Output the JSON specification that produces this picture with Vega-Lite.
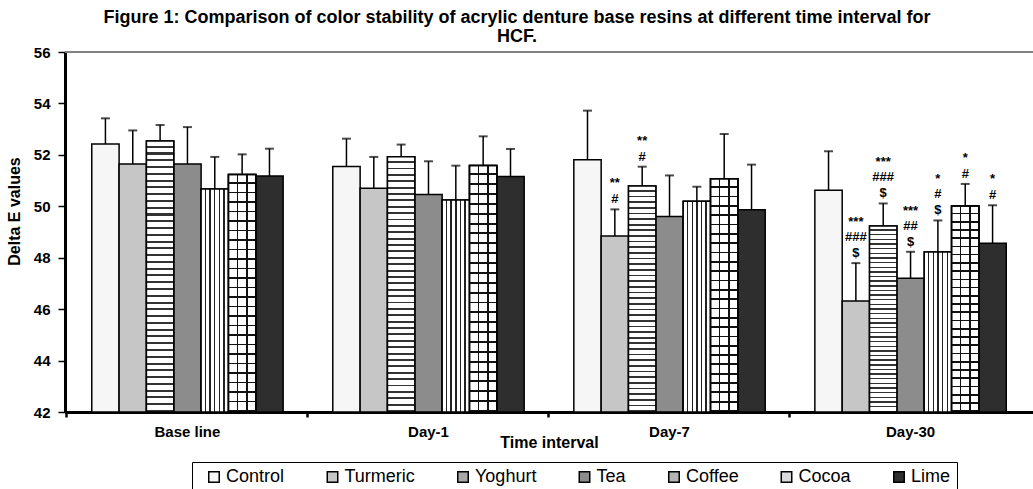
{
  "$schema": "https://vega.github.io/schema/vega-lite/v6.json",
  "width": 968,
  "height": 360,
  "autosize": {"type": "none"},
  "padding": {"left": 65, "top": 52, "right": 0, "bottom": 77},
  "background": "white",
  "config": {"font": "Liberation Sans", "view": {"stroke": null}},
  "title": {
    "text": ["Figure 1: Comparison of color stability of acrylic denture base resins at different time interval for", "HCF."],
    "fontSize": 18,
    "fontWeight": "bold",
    "color": "black",
    "anchor": "middle",
    "dx": -32,
    "offset": -1,
    "lineHeight": 19
  },
  "data": {
    "values": [
      {"time": "Base line", "group": "Control", "m": 52.42, "hi": 53.42},
      {"time": "Base line", "group": "Turmeric", "m": 51.64, "hi": 52.95},
      {"time": "Base line", "group": "Yoghurt", "m": 52.54, "hi": 53.16},
      {"time": "Base line", "group": "Tea", "m": 51.64, "hi": 53.08},
      {"time": "Base line", "group": "Coffee", "m": 50.67, "hi": 51.92},
      {"time": "Base line", "group": "Cocoa", "m": 51.24, "hi": 52.02},
      {"time": "Base line", "group": "Lime", "m": 51.18, "hi": 52.24},
      {"time": "Day-1", "group": "Control", "m": 51.55, "hi": 52.63},
      {"time": "Day-1", "group": "Turmeric", "m": 50.70, "hi": 51.92},
      {"time": "Day-1", "group": "Yoghurt", "m": 51.93, "hi": 52.40},
      {"time": "Day-1", "group": "Tea", "m": 50.46, "hi": 51.75},
      {"time": "Day-1", "group": "Coffee", "m": 50.24, "hi": 51.58},
      {"time": "Day-1", "group": "Cocoa", "m": 51.59, "hi": 52.72},
      {"time": "Day-1", "group": "Lime", "m": 51.16, "hi": 52.23},
      {"time": "Day-7", "group": "Control", "m": 51.81, "hi": 53.72},
      {"time": "Day-7", "group": "Turmeric", "m": 48.84, "hi": 49.88, "a1": "#", "a2": "**"},
      {"time": "Day-7", "group": "Yoghurt", "m": 50.79, "hi": 51.54, "a1": "#", "a2": "**"},
      {"time": "Day-7", "group": "Tea", "m": 49.60, "hi": 51.20},
      {"time": "Day-7", "group": "Coffee", "m": 50.20, "hi": 50.76},
      {"time": "Day-7", "group": "Cocoa", "m": 51.07, "hi": 52.81},
      {"time": "Day-7", "group": "Lime", "m": 49.87, "hi": 51.62},
      {"time": "Day-30", "group": "Control", "m": 50.62, "hi": 52.14},
      {"time": "Day-30", "group": "Turmeric", "m": 46.32, "hi": 47.79, "a1": "$", "a2": "###", "a3": "***"},
      {"time": "Day-30", "group": "Yoghurt", "m": 49.23, "hi": 50.11, "a1": "$", "a2": "###", "a3": "***"},
      {"time": "Day-30", "group": "Tea", "m": 47.20, "hi": 48.23, "a1": "$", "a2": "##", "a3": "***"},
      {"time": "Day-30", "group": "Coffee", "m": 48.22, "hi": 49.45, "a1": "$", "a2": "#", "a3": "*"},
      {"time": "Day-30", "group": "Cocoa", "m": 50.01, "hi": 50.87, "a1": "#", "a2": "*"},
      {"time": "Day-30", "group": "Lime", "m": 48.56, "hi": 50.04, "a1": "#", "a2": "*"}
    ]
  },
  "encoding": {
    "x": {
      "field": "time",
      "type": "nominal",
      "scale": {"domain": ["Base line", "Day-1", "Day-7", "Day-30"], "paddingInner": 0.206, "paddingOuter": 0.111},
      "axis": {
        "title": "Time interval",
        "labelAngle": 0,
        "bandPosition": -0.13,
        "domainColor": "black",
        "domainWidth": 3,
        "tickColor": "black",
        "tickWidth": 2.5,
        "tickSize": 5,
        "labelFontSize": 15,
        "labelFontWeight": "bold",
        "labelColor": "black",
        "labelPadding": 7,
        "titleFontSize": 16,
        "titleFontWeight": "bold",
        "titleColor": "black",
        "titleY": 30,
        "titleBaseline": "middle"
      }
    },
    "xOffset": {
      "field": "group",
      "type": "nominal",
      "scale": {"domain": ["Control", "Turmeric", "Yoghurt", "Tea", "Coffee", "Cocoa", "Lime"]}
    },
    "y": {
      "field": "m",
      "type": "quantitative",
      "scale": {"domain": [42, 56], "nice": false, "zero": false},
      "axis": {
        "title": "Delta E values",
        "values": [42, 44, 46, 48, 50, 52, 54, 56],
        "grid": false,
        "domainColor": "black",
        "domainWidth": 3,
        "tickColor": "black",
        "tickWidth": 1.5,
        "tickSize": 7,
        "labelFontSize": 15,
        "labelFontWeight": "bold",
        "labelColor": "black",
        "labelPadding": 8,
        "titleFontSize": 16,
        "titleFontWeight": "bold",
        "titleColor": "black",
        "titleX": -51,
        "titleY": 159,
        "titleBaseline": "middle"
      }
    }
  },
  "layer": [
    {
      "mark": {"type": "rule", "color": "#808080", "strokeWidth": 1},
      "encoding": {"y": {"datum": 56}, "x": null, "xOffset": null}
    },
    {
      "mark": {"type": "bar", "stroke": "black", "strokeWidth": 1.5},
      "encoding": {
        "y2": {"datum": 42},
        "color": {
          "field": "group",
          "type": "nominal",
          "scale": {
            "domain": ["Control", "Turmeric", "Yoghurt", "Tea", "Coffee", "Cocoa", "Lime"],
            "range": ["#f6f6f6", "#c6c6c6", "#a8a8a8", "#8c8c8c", "#b4b4b4", "#dadada", "#2e2e2e"]
          },
          "legend": {
            "orient": "none",
            "legendX": 127,
            "legendY": 410,
            "direction": "horizontal",
            "columns": 7,
            "title": null,
            "strokeColor": "black",
            "fillColor": "white",
            "padding": 6,
            "symbolOffset": 7,
            "symbolType": "square",
            "symbolSize": 110,
            "symbolStrokeColor": "black",
            "labelFontSize": 18,
            "labelColor": "black",
            "labelOffset": 3,
            "columnPadding": 31.5
          }
        }
      }
    },
    {
      "transform": [{"filter": "datum.group === 'Yoghurt'"}],
      "mark": {
        "type": "bar", "stroke": "black", "strokeWidth": 1.5,
        "color": {
          "gradient": "linear", "x1": 0, "y1": 0, "x2": 0, "y2": 1,
          "stops": [
            {"offset": 0, "color": "#fff"}, {"offset": 0.0175, "color": "#fff"}, {"offset": 0.0175, "color": "#333"}, {"offset": 0.025, "color": "#333"},
            {"offset": 0.025, "color": "#fff"}, {"offset": 0.0425, "color": "#fff"}, {"offset": 0.0425, "color": "#333"}, {"offset": 0.05, "color": "#333"},
            {"offset": 0.05, "color": "#fff"}, {"offset": 0.0675, "color": "#fff"}, {"offset": 0.0675, "color": "#333"}, {"offset": 0.075, "color": "#333"},
            {"offset": 0.075, "color": "#fff"}, {"offset": 0.0925, "color": "#fff"}, {"offset": 0.0925, "color": "#333"}, {"offset": 0.1, "color": "#333"},
            {"offset": 0.1, "color": "#fff"}, {"offset": 0.1175, "color": "#fff"}, {"offset": 0.1175, "color": "#333"}, {"offset": 0.125, "color": "#333"},
            {"offset": 0.125, "color": "#fff"}, {"offset": 0.1425, "color": "#fff"}, {"offset": 0.1425, "color": "#333"}, {"offset": 0.15, "color": "#333"},
            {"offset": 0.15, "color": "#fff"}, {"offset": 0.1675, "color": "#fff"}, {"offset": 0.1675, "color": "#333"}, {"offset": 0.175, "color": "#333"},
            {"offset": 0.175, "color": "#fff"}, {"offset": 0.1925, "color": "#fff"}, {"offset": 0.1925, "color": "#333"}, {"offset": 0.2, "color": "#333"},
            {"offset": 0.2, "color": "#fff"}, {"offset": 0.2175, "color": "#fff"}, {"offset": 0.2175, "color": "#333"}, {"offset": 0.225, "color": "#333"},
            {"offset": 0.225, "color": "#fff"}, {"offset": 0.2425, "color": "#fff"}, {"offset": 0.2425, "color": "#333"}, {"offset": 0.25, "color": "#333"},
            {"offset": 0.25, "color": "#fff"}, {"offset": 0.2675, "color": "#fff"}, {"offset": 0.2675, "color": "#333"}, {"offset": 0.275, "color": "#333"},
            {"offset": 0.275, "color": "#fff"}, {"offset": 0.2925, "color": "#fff"}, {"offset": 0.2925, "color": "#333"}, {"offset": 0.3, "color": "#333"},
            {"offset": 0.3, "color": "#fff"}, {"offset": 0.3175, "color": "#fff"}, {"offset": 0.3175, "color": "#333"}, {"offset": 0.325, "color": "#333"},
            {"offset": 0.325, "color": "#fff"}, {"offset": 0.3425, "color": "#fff"}, {"offset": 0.3425, "color": "#333"}, {"offset": 0.35, "color": "#333"},
            {"offset": 0.35, "color": "#fff"}, {"offset": 0.3675, "color": "#fff"}, {"offset": 0.3675, "color": "#333"}, {"offset": 0.375, "color": "#333"},
            {"offset": 0.375, "color": "#fff"}, {"offset": 0.3925, "color": "#fff"}, {"offset": 0.3925, "color": "#333"}, {"offset": 0.4, "color": "#333"},
            {"offset": 0.4, "color": "#fff"}, {"offset": 0.4175, "color": "#fff"}, {"offset": 0.4175, "color": "#333"}, {"offset": 0.425, "color": "#333"},
            {"offset": 0.425, "color": "#fff"}, {"offset": 0.4425, "color": "#fff"}, {"offset": 0.4425, "color": "#333"}, {"offset": 0.45, "color": "#333"},
            {"offset": 0.45, "color": "#fff"}, {"offset": 0.4675, "color": "#fff"}, {"offset": 0.4675, "color": "#333"}, {"offset": 0.475, "color": "#333"},
            {"offset": 0.475, "color": "#fff"}, {"offset": 0.4925, "color": "#fff"}, {"offset": 0.4925, "color": "#333"}, {"offset": 0.5, "color": "#333"},
            {"offset": 0.5, "color": "#fff"}, {"offset": 0.5175, "color": "#fff"}, {"offset": 0.5175, "color": "#333"}, {"offset": 0.525, "color": "#333"},
            {"offset": 0.525, "color": "#fff"}, {"offset": 0.5425, "color": "#fff"}, {"offset": 0.5425, "color": "#333"}, {"offset": 0.55, "color": "#333"},
            {"offset": 0.55, "color": "#fff"}, {"offset": 0.5675, "color": "#fff"}, {"offset": 0.5675, "color": "#333"}, {"offset": 0.575, "color": "#333"},
            {"offset": 0.575, "color": "#fff"}, {"offset": 0.5925, "color": "#fff"}, {"offset": 0.5925, "color": "#333"}, {"offset": 0.6, "color": "#333"},
            {"offset": 0.6, "color": "#fff"}, {"offset": 0.6175, "color": "#fff"}, {"offset": 0.6175, "color": "#333"}, {"offset": 0.625, "color": "#333"},
            {"offset": 0.625, "color": "#fff"}, {"offset": 0.6425, "color": "#fff"}, {"offset": 0.6425, "color": "#333"}, {"offset": 0.65, "color": "#333"},
            {"offset": 0.65, "color": "#fff"}, {"offset": 0.6675, "color": "#fff"}, {"offset": 0.6675, "color": "#333"}, {"offset": 0.675, "color": "#333"},
            {"offset": 0.675, "color": "#fff"}, {"offset": 0.6925, "color": "#fff"}, {"offset": 0.6925, "color": "#333"}, {"offset": 0.7, "color": "#333"},
            {"offset": 0.7, "color": "#fff"}, {"offset": 0.7175, "color": "#fff"}, {"offset": 0.7175, "color": "#333"}, {"offset": 0.725, "color": "#333"},
            {"offset": 0.725, "color": "#fff"}, {"offset": 0.7425, "color": "#fff"}, {"offset": 0.7425, "color": "#333"}, {"offset": 0.75, "color": "#333"},
            {"offset": 0.75, "color": "#fff"}, {"offset": 0.7675, "color": "#fff"}, {"offset": 0.7675, "color": "#333"}, {"offset": 0.775, "color": "#333"},
            {"offset": 0.775, "color": "#fff"}, {"offset": 0.7925, "color": "#fff"}, {"offset": 0.7925, "color": "#333"}, {"offset": 0.8, "color": "#333"},
            {"offset": 0.8, "color": "#fff"}, {"offset": 0.8175, "color": "#fff"}, {"offset": 0.8175, "color": "#333"}, {"offset": 0.825, "color": "#333"},
            {"offset": 0.825, "color": "#fff"}, {"offset": 0.8425, "color": "#fff"}, {"offset": 0.8425, "color": "#333"}, {"offset": 0.85, "color": "#333"},
            {"offset": 0.85, "color": "#fff"}, {"offset": 0.8675, "color": "#fff"}, {"offset": 0.8675, "color": "#333"}, {"offset": 0.875, "color": "#333"},
            {"offset": 0.875, "color": "#fff"}, {"offset": 0.8925, "color": "#fff"}, {"offset": 0.8925, "color": "#333"}, {"offset": 0.9, "color": "#333"},
            {"offset": 0.9, "color": "#fff"}, {"offset": 0.9175, "color": "#fff"}, {"offset": 0.9175, "color": "#333"}, {"offset": 0.925, "color": "#333"},
            {"offset": 0.925, "color": "#fff"}, {"offset": 0.9425, "color": "#fff"}, {"offset": 0.9425, "color": "#333"}, {"offset": 0.95, "color": "#333"},
            {"offset": 0.95, "color": "#fff"}, {"offset": 0.9675, "color": "#fff"}, {"offset": 0.9675, "color": "#333"}, {"offset": 0.975, "color": "#333"},
            {"offset": 0.975, "color": "#fff"}, {"offset": 0.9925, "color": "#fff"}, {"offset": 0.9925, "color": "#333"}, {"offset": 1, "color": "#333"}
          ]
        }
      },
      "encoding": {"y2": {"datum": 42}}
    },
    {
      "transform": [{"filter": "datum.group === 'Coffee'"}],
      "mark": {
        "type": "bar", "stroke": "black", "strokeWidth": 1.5,
        "color": {
          "gradient": "linear", "x1": 0, "y1": 0, "x2": 1, "y2": 0,
          "stops": [
            {"offset": 0, "color": "#fff"}, {"offset": 0.135, "color": "#fff"}, {"offset": 0.135, "color": "#222"}, {"offset": 0.185, "color": "#222"},
            {"offset": 0.185, "color": "#fff"}, {"offset": 0.305, "color": "#fff"}, {"offset": 0.305, "color": "#222"}, {"offset": 0.355, "color": "#222"},
            {"offset": 0.355, "color": "#fff"}, {"offset": 0.475, "color": "#fff"}, {"offset": 0.475, "color": "#222"}, {"offset": 0.525, "color": "#222"},
            {"offset": 0.525, "color": "#fff"}, {"offset": 0.645, "color": "#fff"}, {"offset": 0.645, "color": "#222"}, {"offset": 0.695, "color": "#222"},
            {"offset": 0.695, "color": "#fff"}, {"offset": 0.815, "color": "#fff"}, {"offset": 0.815, "color": "#222"}, {"offset": 0.865, "color": "#222"},
            {"offset": 0.865, "color": "#fff"}, {"offset": 1, "color": "#fff"}
          ]
        }
      },
      "encoding": {"y2": {"datum": 42}}
    },
    {
      "transform": [{"filter": "datum.group === 'Cocoa'"}],
      "mark": {
        "type": "bar", "stroke": "black", "strokeWidth": 1.5,
        "color": {
          "gradient": "linear", "x1": 0, "y1": 0, "x2": 1, "y2": 0,
          "stops": [
            {"offset": 0, "color": "#fff"}, {"offset": 0.3, "color": "#fff"}, {"offset": 0.3, "color": "#111"}, {"offset": 0.36, "color": "#111"},
            {"offset": 0.36, "color": "#fff"}, {"offset": 0.64, "color": "#fff"}, {"offset": 0.64, "color": "#111"}, {"offset": 0.7, "color": "#111"},
            {"offset": 0.7, "color": "#fff"}, {"offset": 1, "color": "#fff"}
          ]
        }
      },
      "encoding": {"y2": {"datum": 42}}
    },
    {
      "transform": [{"filter": "datum.group === 'Cocoa'"}],
      "mark": {
        "type": "bar", "stroke": "black", "strokeWidth": 1.5,
        "color": {
          "gradient": "linear", "x1": 0, "y1": 0, "x2": 0, "y2": 1,
          "stops": [
            {"offset": 0, "color": "rgba(0,0,0,0)"}, {"offset": 0.032, "color": "rgba(0,0,0,0)"}, {"offset": 0.032, "color": "#111"}, {"offset": 0.04, "color": "#111"},
            {"offset": 0.04, "color": "rgba(0,0,0,0)"}, {"offset": 0.072, "color": "rgba(0,0,0,0)"}, {"offset": 0.072, "color": "#111"}, {"offset": 0.08, "color": "#111"},
            {"offset": 0.08, "color": "rgba(0,0,0,0)"}, {"offset": 0.112, "color": "rgba(0,0,0,0)"}, {"offset": 0.112, "color": "#111"}, {"offset": 0.12, "color": "#111"},
            {"offset": 0.12, "color": "rgba(0,0,0,0)"}, {"offset": 0.152, "color": "rgba(0,0,0,0)"}, {"offset": 0.152, "color": "#111"}, {"offset": 0.16, "color": "#111"},
            {"offset": 0.16, "color": "rgba(0,0,0,0)"}, {"offset": 0.192, "color": "rgba(0,0,0,0)"}, {"offset": 0.192, "color": "#111"}, {"offset": 0.2, "color": "#111"},
            {"offset": 0.2, "color": "rgba(0,0,0,0)"}, {"offset": 0.232, "color": "rgba(0,0,0,0)"}, {"offset": 0.232, "color": "#111"}, {"offset": 0.24, "color": "#111"},
            {"offset": 0.24, "color": "rgba(0,0,0,0)"}, {"offset": 0.272, "color": "rgba(0,0,0,0)"}, {"offset": 0.272, "color": "#111"}, {"offset": 0.28, "color": "#111"},
            {"offset": 0.28, "color": "rgba(0,0,0,0)"}, {"offset": 0.312, "color": "rgba(0,0,0,0)"}, {"offset": 0.312, "color": "#111"}, {"offset": 0.32, "color": "#111"},
            {"offset": 0.32, "color": "rgba(0,0,0,0)"}, {"offset": 0.352, "color": "rgba(0,0,0,0)"}, {"offset": 0.352, "color": "#111"}, {"offset": 0.36, "color": "#111"},
            {"offset": 0.36, "color": "rgba(0,0,0,0)"}, {"offset": 0.392, "color": "rgba(0,0,0,0)"}, {"offset": 0.392, "color": "#111"}, {"offset": 0.4, "color": "#111"},
            {"offset": 0.4, "color": "rgba(0,0,0,0)"}, {"offset": 0.432, "color": "rgba(0,0,0,0)"}, {"offset": 0.432, "color": "#111"}, {"offset": 0.44, "color": "#111"},
            {"offset": 0.44, "color": "rgba(0,0,0,0)"}, {"offset": 0.472, "color": "rgba(0,0,0,0)"}, {"offset": 0.472, "color": "#111"}, {"offset": 0.48, "color": "#111"},
            {"offset": 0.48, "color": "rgba(0,0,0,0)"}, {"offset": 0.512, "color": "rgba(0,0,0,0)"}, {"offset": 0.512, "color": "#111"}, {"offset": 0.52, "color": "#111"},
            {"offset": 0.52, "color": "rgba(0,0,0,0)"}, {"offset": 0.552, "color": "rgba(0,0,0,0)"}, {"offset": 0.552, "color": "#111"}, {"offset": 0.56, "color": "#111"},
            {"offset": 0.56, "color": "rgba(0,0,0,0)"}, {"offset": 0.592, "color": "rgba(0,0,0,0)"}, {"offset": 0.592, "color": "#111"}, {"offset": 0.6, "color": "#111"},
            {"offset": 0.6, "color": "rgba(0,0,0,0)"}, {"offset": 0.632, "color": "rgba(0,0,0,0)"}, {"offset": 0.632, "color": "#111"}, {"offset": 0.64, "color": "#111"},
            {"offset": 0.64, "color": "rgba(0,0,0,0)"}, {"offset": 0.672, "color": "rgba(0,0,0,0)"}, {"offset": 0.672, "color": "#111"}, {"offset": 0.68, "color": "#111"},
            {"offset": 0.68, "color": "rgba(0,0,0,0)"}, {"offset": 0.712, "color": "rgba(0,0,0,0)"}, {"offset": 0.712, "color": "#111"}, {"offset": 0.72, "color": "#111"},
            {"offset": 0.72, "color": "rgba(0,0,0,0)"}, {"offset": 0.752, "color": "rgba(0,0,0,0)"}, {"offset": 0.752, "color": "#111"}, {"offset": 0.76, "color": "#111"},
            {"offset": 0.76, "color": "rgba(0,0,0,0)"}, {"offset": 0.792, "color": "rgba(0,0,0,0)"}, {"offset": 0.792, "color": "#111"}, {"offset": 0.8, "color": "#111"},
            {"offset": 0.8, "color": "rgba(0,0,0,0)"}, {"offset": 0.832, "color": "rgba(0,0,0,0)"}, {"offset": 0.832, "color": "#111"}, {"offset": 0.84, "color": "#111"},
            {"offset": 0.84, "color": "rgba(0,0,0,0)"}, {"offset": 0.872, "color": "rgba(0,0,0,0)"}, {"offset": 0.872, "color": "#111"}, {"offset": 0.88, "color": "#111"},
            {"offset": 0.88, "color": "rgba(0,0,0,0)"}, {"offset": 0.912, "color": "rgba(0,0,0,0)"}, {"offset": 0.912, "color": "#111"}, {"offset": 0.92, "color": "#111"},
            {"offset": 0.92, "color": "rgba(0,0,0,0)"}, {"offset": 0.952, "color": "rgba(0,0,0,0)"}, {"offset": 0.952, "color": "#111"}, {"offset": 0.96, "color": "#111"},
            {"offset": 0.96, "color": "rgba(0,0,0,0)"}, {"offset": 0.992, "color": "rgba(0,0,0,0)"}, {"offset": 0.992, "color": "#111"}, {"offset": 1, "color": "#111"}
          ]
        }
      },
      "encoding": {"y2": {"datum": 42}}
    },
    {
      "mark": {"type": "rule", "color": "black", "strokeWidth": 1.5},
      "encoding": {"y2": {"field": "hi"}}
    },
    {
      "mark": {"type": "tick", "orient": "horizontal", "size": 9, "thickness": 2, "color": "black"},
      "encoding": {"y": {"field": "hi", "type": "quantitative"}}
    },
    {
      "transform": [{"filter": "isValid(datum.a1)"}],
      "mark": {"type": "text", "baseline": "bottom", "dy": -3, "fontWeight": "bold", "fontSize": 13, "color": "black"},
      "encoding": {"y": {"field": "hi", "type": "quantitative"}, "text": {"field": "a1"}}
    },
    {
      "transform": [{"filter": "isValid(datum.a2)"}],
      "mark": {"type": "text", "baseline": "bottom", "dy": -19, "fontWeight": "bold", "fontSize": 13, "color": "black"},
      "encoding": {"y": {"field": "hi", "type": "quantitative"}, "text": {"field": "a2"}}
    },
    {
      "transform": [{"filter": "isValid(datum.a3)"}],
      "mark": {"type": "text", "baseline": "bottom", "dy": -34, "fontWeight": "bold", "fontSize": 13, "color": "black"},
      "encoding": {"y": {"field": "hi", "type": "quantitative"}, "text": {"field": "a3"}}
    }
  ]
}
